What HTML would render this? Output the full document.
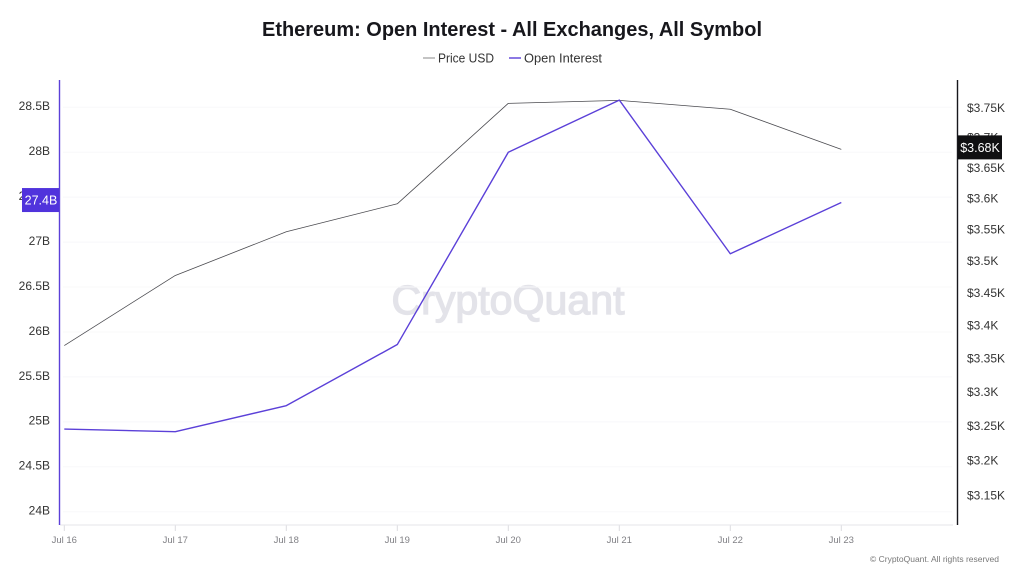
<!DOCTYPE html>
<html lang="en">
<head>
<meta charset="utf-8">
<title>Ethereum: Open Interest - All Exchanges, All Symbol</title>
<style>
html,body{margin:0;padding:0;background:#fff;width:1024px;height:576px;overflow:hidden}
svg{display:block;font-family:"Liberation Sans",sans-serif}
</style>
</head>
<body>
<svg id="chart" width="1024" height="576" viewBox="0 0 1024 576">
  <rect width="1024" height="576" fill="#fff"/>
  <text x="512" y="36" text-anchor="middle" font-size="20" font-weight="700" fill="#17171c" textLength="500" lengthAdjust="spacingAndGlyphs">Ethereum: Open Interest - All Exchanges, All Symbol</text>
  <g>
    <g>
      <line x1="423" x2="435" y1="58" y2="58" stroke="#8a8a8a" stroke-width="1"/>
      <text x="438" y="62.5" font-size="13" fill="#333" textLength="56" lengthAdjust="spacingAndGlyphs">Price USD</text>
    </g>
    <g>
      <line x1="509" x2="521" y1="58" y2="58" stroke="#5b40d8" stroke-width="1.4"/>
      <text x="524" y="62.5" font-size="13" fill="#333" textLength="78" lengthAdjust="spacingAndGlyphs">Open Interest</text>
    </g>
  </g>
  <text x="508" y="314" text-anchor="middle" font-size="41" fill="#e3e3e9" stroke="#e3e3e9" stroke-width="1.3" textLength="233" lengthAdjust="spacingAndGlyphs">CryptoQuant</text>
  <g id="grid"></g>
  <g id="leftTicks"></g>
  <g id="rightTicks"></g>
  <g id="xTicks"></g>
  <line x1="60" x2="953" y1="525" y2="525" stroke="#e6e6ea" stroke-width="1"/>
  <line x1="59.5" x2="59.5" y1="80" y2="525" stroke="#5b40d8" stroke-width="1.4"/>
  <line x1="957.5" x2="957.5" y1="80" y2="525" stroke="#17171c" stroke-width="1.4"/>
  <polyline id="priceLine" fill="none" stroke="#4a4a4f" stroke-width="0.8" stroke-linejoin="round"/>
  <polyline id="oiLine" fill="none" stroke="#5b40d8" stroke-width="1.4" stroke-linejoin="round"/>
  <g>
    <rect id="oiTag" x="22" width="37" height="24" fill="#5033dc"/>
    <text id="oiTagText" x="41" text-anchor="middle" font-size="12.5" fill="#fff"></text>
  </g>
  <g>
    <rect id="priceTag" x="958" width="44" height="24" fill="#101012"/>
    <text id="priceTagText" x="980" text-anchor="middle" font-size="12.5" fill="#fff"></text>
  </g>
  <text x="999" y="562" text-anchor="end" font-size="8.6" fill="#777" textLength="129" lengthAdjust="spacingAndGlyphs">© CryptoQuant. All rights reserved</text>
</svg>
<script>
var categories = ['Jul 16', 'Jul 17', 'Jul 18', 'Jul 19', 'Jul 20', 'Jul 21', 'Jul 22', 'Jul 23'];
var priceValues = [3.369, 3.477, 3.546, 3.591, 3.757, 3.762, 3.747, 3.680];
var openInterestValues = [24.92, 24.89, 25.18, 25.86, 28.0, 28.58, 26.87, 27.44];
var leftTickValues = [24, 24.5, 25, 25.5, 26, 26.5, 27, 27.5, 28, 28.5];
var leftTickLabels = ['24B', '24.5B', '25B', '25.5B', '26B', '26.5B', '27B', '27.5B', '28B', '28.5B'];
var rightTickValues = [3.15, 3.2, 3.25, 3.3, 3.35, 3.4, 3.45, 3.5, 3.55, 3.6, 3.65, 3.7, 3.75];
var rightTickLabels = ['$3.15K', '$3.2K', '$3.25K', '$3.3K', '$3.35K', '$3.4K', '$3.45K', '$3.5K', '$3.55K', '$3.6K', '$3.65K', '$3.7K', '$3.75K'];

var NS = 'http://www.w3.org/2000/svg';
function xScale(i) { return 64.3 + i * 111; }
function yLeft(v) { return 511.7 - (v - 24) * 89.87; }
function yRight(v) { return 107.5 + Math.log(3.75 / v) * 2222; }
function make(tag, attrs, parent, text) {
  var el = document.createElementNS(NS, tag);
  Object.keys(attrs).forEach(function (k) { el.setAttribute(k, attrs[k]); });
  if (text !== undefined) el.textContent = text;
  parent.appendChild(el);
  return el;
}
var gridG = document.getElementById('grid');
var leftG = document.getElementById('leftTicks');
var rightG = document.getElementById('rightTicks');
var xG = document.getElementById('xTicks');

leftTickValues.forEach(function (v, i) {
  var y = yLeft(v);
  var g = make('line', { x1: 63, x2: 952, y1: y, y2: y, stroke: '#f8f8fa', 'stroke-width': 1 }, gridG);
  
  
  var t = make('text', { x: 50, y: y - 1.5 + 4.4, 'text-anchor': 'end', 'font-size': 12, fill: '#333' }, leftG, leftTickLabels[i]);
  
  
});
rightTickValues.forEach(function (v, i) {
  var t = make('text', { x: 967, y: yRight(v) + 4.4, 'font-size': 12, fill: '#333' }, rightG, rightTickLabels[i]);
  
  
});
categories.forEach(function (c, i) {
  var x = xScale(i);
  var l = make('line', { x1: x, x2: x, y1: 525, y2: 531, stroke: '#dcdce0', 'stroke-width': 1 }, xG);
  
  
  var t = make('text', { x: x, y: 543, 'text-anchor': 'middle', 'font-size': 9.5, fill: '#808085' }, xG, c);
  
  
});
document.getElementById('priceLine').setAttribute('points', priceValues.map(function (v, i) {
  return xScale(i) + ',' + yRight(v);
}).join(' '));
document.getElementById('oiLine').setAttribute('points', openInterestValues.map(function (v, i) {
  return xScale(i) + ',' + yLeft(v);
}).join(' '));

var lastOi = openInterestValues[openInterestValues.length - 1];
var lastPrice = priceValues[priceValues.length - 1];
var oiY = yLeft(lastOi) - 2.5;
var priceY = yRight(lastPrice) - 2;
document.getElementById('oiTag').setAttribute('y', oiY - 12);
var oiText = document.getElementById('oiTagText');
oiText.setAttribute('y', oiY + 4.5);
oiText.textContent = lastOi.toFixed(1) + 'B';
document.getElementById('priceTag').setAttribute('y', priceY - 12);
var priceText = document.getElementById('priceTagText');
priceText.setAttribute('y', priceY + 4.5);
priceText.textContent = '$' + lastPrice.toFixed(2) + 'K';
</script>
</body>
</html>
